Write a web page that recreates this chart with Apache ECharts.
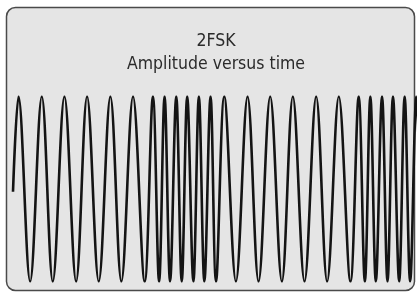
<!DOCTYPE html>
<html>
<head>
<meta charset="utf-8">
<script src="https://cdn.jsdelivr.net/npm/echarts@6/dist/echarts.min.js"></script>
<style>
  html, body { margin: 0; padding: 0; background: #fff; }
  #chart { width: 417px; height: 293px; }
</style>
</head>
<body>
<div id="chart"></div>
<script>
  // 2FSK: bits 0 0 1 0 0 1, one bit = 1 time unit
  // extremum times (bit units) and their level
  var times = [
    0, 0.08, 0.25, 0.42, 0.58, 0.75, 0.92, 1.08, 1.25, 1.42, 1.58, 1.75, 1.92,
    2.04, 2.13, 2.21, 2.29, 2.38, 2.46, 2.54, 2.63, 2.71, 2.79, 2.88, 2.96,
    3.08, 3.25, 3.42, 3.58, 3.75, 3.92, 4.08, 4.25, 4.42, 4.58, 4.75, 4.92,
    5.04, 5.13, 5.21, 5.29, 5.38, 5.46, 5.54, 5.63, 5.71, 5.79, 5.88, 5.96
  ]
  var amplitude = [
    -0.03, 1, -1, 1, -1, 1, -1, 1, -1, 1, -1, 1, -1,
    1, -1, 1, -1, 1, -1, 1, -1, 1, -1, 1, -1,
    1, -1, 1, -1, 1, -1, 1, -1, 1, -1, 1, -1,
    1, -1, 1, -1, 1, -1, 1, -1, 1, -1, 1, -1
  ]
  var titleLines = ['2FSK', 'Amplitude versus time']

  var chart = echarts.init(document.getElementById('chart'))

  chart.setOption({
    animation: false,
    graphic: [
      {
        type: 'rect',
        z: -10,
        shape: { x: 6.5, y: 7.5, width: 408, height: 283, r: 9 },
        style: { fill: '#e5e5e5', stroke: '#4a4a4a', lineWidth: 1.5 }
      }
    ],
    title: {
      text: titleLines.join('\n'),
      left: 216,
      top: 30,
      padding: 0,
      textAlign: 'center',
      textStyle: {
        fontFamily: '"Liberation Sans Narrow", "DejaVu Sans Condensed", sans-serif',
        fontSize: 17.5,
        fontWeight: 'normal',
        color: '#2b2b2b',
        lineHeight: 23
      }
    },
    grid: {
      left: 13,
      right: 0,
      top: 96.5,
      bottom: 11.5
    },
    xAxis: {
      type: 'value',
      min: 0,
      max: 5.89,
      show: false
    },
    yAxis: {
      type: 'value',
      min: -1,
      max: 1,
      show: false
    },
    series: [
      {
        type: 'line',
        data: times.map(function (t, i) { return [t, amplitude[i]] }),
        smooth: 0.36,
        symbol: 'none',
        clip: true,
        lineStyle: {
          color: '#141414',
          width: 2.6
        }
      }
    ]
  })
</script>
</body>
</html>
